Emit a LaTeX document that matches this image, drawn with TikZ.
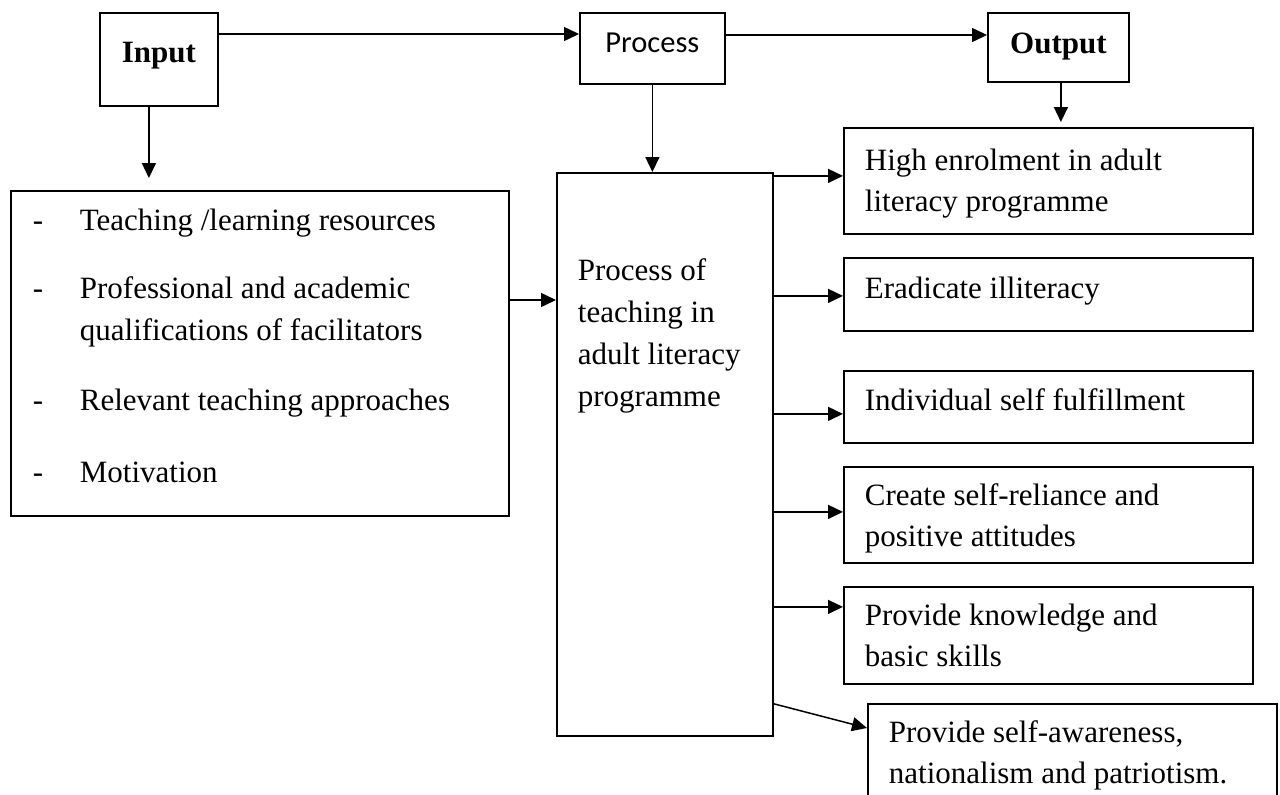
\documentclass[tikz,border=0pt]{standalone}
\usepackage{fontspec}
\setmainfont{Liberation Serif}
\newfontfamily\calibrifont{Carlito}
\usetikzlibrary{arrows.meta}
% #1 box height, #2 text width, #3 first baseline from top, #4 alignment, #5 text
\newcommand\txtbox[5]{\parbox[c][#1][t]{#2}{#4\rule{0pt}{#3}#5}}
\newcommand\dashitem{\makebox[47pt][l]{-}}
\tikzset{
  bx/.style={draw, line width=1.8pt, inner ysep=0pt, inner xsep=21pt, anchor=north west,
             font=\fontsize{31}{41}\selectfont},
  topbx/.style={draw, line width=1.8pt, inner sep=0pt, anchor=north west,
             font=\fontsize{31}{41}\selectfont},
  arr/.style={line width=1.5pt, -{Triangle[length=15pt,width=14pt]}},
}
\begin{document}
\begin{tikzpicture}[x=1pt,y=-1pt]
\fill[white] (0,0) rectangle (1280,795);
\useasboundingbox (0,0) rectangle (1280,795);
% top row
\node[topbx] (input) at (99,12) {\txtbox{93pt}{118pt}{50pt}{\centering}{\bfseries Input}};
\node[topbx] (process) at (579,12) {\txtbox{71pt}{145pt}{40pt}{\centering}{\calibrifont\fontsize{30.5}{40}\selectfont Process}};
\node[topbx] (output) at (987,12) {\txtbox{69pt}{141pt}{41pt}{\centering}{\bfseries Output}};
% input list
\node[bx, inner xsep=22pt, font=\fontsize{31}{42}\selectfont] (list) at (10,190) {\txtbox{325pt}{454pt}{40pt}{\raggedright}{%
\dashitem Teaching /learning resources\\[26pt]
\dashitem Professional and academic\\
\hspace*{47pt}qualifications of facilitators\\[28pt]
\dashitem Relevant teaching approaches\\[30pt]
\dashitem Motivation}};
% process box
\node[bx, font=\fontsize{31}{42}\selectfont] (big) at (556,172) {\txtbox{563pt}{174pt}{108pt}{\raggedright}{Process of\\teaching in\\adult literacy\\programme}};
% outputs
\node[bx] (o1) at (843,127) {\txtbox{106pt}{367pt}{43pt}{\raggedright}{High enrolment in adult\\literacy programme}};
\node[bx] (o2) at (843,257) {\txtbox{73pt}{367pt}{41pt}{\raggedright}{Eradicate illiteracy}};
\node[bx] (o3) at (843,370) {\txtbox{72pt}{367pt}{40pt}{\raggedright}{Individual self fulfillment}};
\node[bx] (o4) at (843,466) {\txtbox{96pt}{367pt}{39pt}{\raggedright}{Create self-reliance and\\positive attitudes}};
\node[bx] (o5) at (843,586) {\txtbox{97pt}{367pt}{39pt}{\raggedright}{Provide knowledge and\\basic skills}};
\node[bx] (o6) at (867,703) {\txtbox{120pt}{367pt}{39pt}{\raggedright}{Provide self-awareness,\\nationalism and patriotism.}};
% connectors
\draw[arr] ([yshift=-22pt]input.north east) -- ([yshift=-22pt]process.north west);
\draw[arr] ([yshift=-23pt]process.north east) -- ([yshift=-23pt]output.north west);
\draw[arr, shorten >=12pt] ([xshift=-10pt]input.south) -- ([xshift=-10pt]input.south |- list.north);
\draw[arr] (process.south) -- (process.south |- big.north);
\draw[arr, shorten >=5pt] ([xshift=2.5pt]output.south) -- ([xshift=2.5pt]output.south |- o1.north);
\draw[arr] ([yshift=-110pt]list.north east) -- ([yshift=-110pt]list.north east -| big.west);
\draw[arr] ([yshift=5pt]o1.west -| big.east) -- ([yshift=5pt]o1.west);
\draw[arr] ([yshift=-1.5pt]o2.west -| big.east) -- ([yshift=-1.5pt]o2.west);
\draw[arr] ([yshift=-7pt]o3.west -| big.east) -- ([yshift=-7pt]o3.west);
\draw[arr] ([yshift=3pt]o4.west -| big.east) -- ([yshift=3pt]o4.west);
\draw[arr] ([yshift=28.5pt]o5.west -| big.east) -- ([yshift=28.5pt]o5.west);
\draw[arr] ([yshift=33pt]big.south east) -- ([yshift=-25pt]o6.north west);
\end{tikzpicture}
\end{document}
